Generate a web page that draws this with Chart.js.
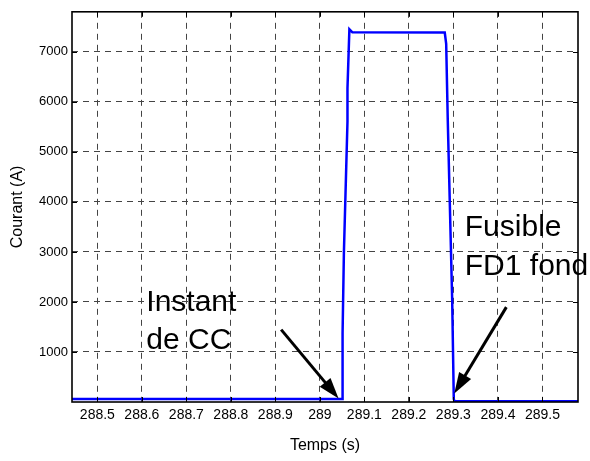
<!DOCTYPE html>
<html><head><meta charset="utf-8">
<script src="https://cdn.jsdelivr.net/npm/chart.js@4.4.0/dist/chart.umd.min.js"></script>
<style>html,body{margin:0;padding:0;background:#fff;}canvas{display:block;}</style>
</head><body>
<canvas id="c" width="590" height="461"></canvas>
<script>
// ---- data ----
const timeS    = [288.443, 289.051, 289.051, 289.054, 289.062, 289.062, 289.0663, 289.073, 289.2806, 289.2838, 289.2874, 289.2973, 289.3009, 289.3024, 289.58];
const currentA = [60,      60,      1370,    3000,    5600,    6270,    7450,     7390,    7385,     7160,     5620,     2030,     60,       15,       15];
const xTickValues = [288.5, 288.6, 288.7, 288.8, 288.9, 289.0, 289.1, 289.2, 289.3, 289.4, 289.5];
const xTickLabels = ['288.5','288.6','288.7','288.8','288.9','289','289.1','289.2','289.3','289.4','289.5'];
const yTickValues = [1000, 2000, 3000, 4000, 5000, 6000, 7000];
const yTickLabels = ['1000','2000','3000','4000','5000','6000','7000'];
const xRange = [288.443, 289.58];
const yRange = [0, 7800];
const noteTexts = ['Instant', 'de CC', 'Fusible', 'FD1 fond'];
const noteX = [288.610, 288.610, 289.3256, 289.3256];
const noteY = [1818, 1067, 3314, 2530];
const arrowFromX = [288.913, 289.419];
const arrowFromY = [1447, 1897];
const arrowToX = [289.042, 289.302];
const arrowToY = [70, 170];

const FAMILY = '"Liberation Sans", Arial, Helvetica, sans-serif';

const framePlugin = {
  id: 'frame',
  beforeDraw(chart) {
    const ctx = chart.ctx;
    ctx.save(); ctx.fillStyle = '#fff'; ctx.fillRect(0, 0, chart.width, chart.height); ctx.restore();
  },
  afterDraw(chart) {
    const {ctx, chartArea: a, scales: {x, y}} = chart;
    ctx.save();
    ctx.strokeStyle = '#000';
    ctx.lineWidth = 1;
    ctx.beginPath();
    xTickValues.forEach(v => {
      const px = Math.round(x.getPixelForValue(v)) + 0.5;
      ctx.moveTo(px, a.bottom); ctx.lineTo(px, a.bottom - 5);
      ctx.moveTo(px, a.top); ctx.lineTo(px, a.top + 5);
    });
    yTickValues.forEach(v => {
      const py = Math.round(y.getPixelForValue(v)) + 0.5;
      ctx.moveTo(a.left, py); ctx.lineTo(a.left + 5, py);
      ctx.moveTo(a.right, py); ctx.lineTo(a.right - 5, py);
    });
    ctx.stroke();
    ctx.lineWidth = 1.6;
    ctx.strokeRect(a.left, a.top, a.right - a.left, a.bottom - a.top);

    // annotation text
    ctx.fillStyle = '#000';
    ctx.font = '30px ' + FAMILY;
    ctx.textAlign = 'left';
    ctx.textBaseline = 'alphabetic';
    noteTexts.forEach((t, i) => ctx.fillText(t, x.getPixelForValue(noteX[i]), y.getPixelForValue(noteY[i])));

    // arrows
    arrowFromX.forEach((_, i) => {
      const x0 = x.getPixelForValue(arrowFromX[i]), y0 = y.getPixelForValue(arrowFromY[i]);
      const x1 = x.getPixelForValue(arrowToX[i]), y1 = y.getPixelForValue(arrowToY[i]);
      const ang = Math.atan2(y1 - y0, x1 - x0);
      const L = 21, W = 7;
      const c = Math.cos(ang), s = Math.sin(ang);
      const bx = x1 - L * c, by = y1 - L * s;
      ctx.lineWidth = 3;
      ctx.beginPath(); ctx.moveTo(x0, y0); ctx.lineTo(bx + 2 * c, by + 2 * s); ctx.stroke();
      ctx.beginPath();
      ctx.moveTo(x1, y1);
      ctx.lineTo(bx + W * s, by - W * c);
      ctx.lineTo(bx - W * s, by + W * c);
      ctx.closePath(); ctx.fill();
    });
    ctx.restore();
  }
};

new Chart(document.getElementById('c').getContext('2d'), {
  type: 'line',
  data: {
    datasets: [{
      data: timeS.map((t, i) => ({x: t, y: currentA[i]})),
      borderColor: '#0000ff',
      borderWidth: 2.5,
      pointRadius: 0,
      tension: 0,
      fill: false
    }]
  },
  options: {
    responsive: false,
    animation: false,
    devicePixelRatio: 1,
    layout: {padding: {left: 0, top: 11, right: 12, bottom: 0}},
    plugins: {legend: {display: false}, tooltip: {enabled: false}},
    scales: {
      x: {
        type: 'linear', min: xRange[0], max: xRange[1],
        afterBuildTicks: s => { s.ticks = xTickValues.map(v => ({value: v})); },
        afterFit: s => { s.height = 59; },
        ticks: {callback: (v, i) => xTickLabels[i], font: {family: FAMILY, size: 14}, color: '#000', padding: 5, maxRotation: 0, autoSkip: false},
        grid: {drawTicks: false, color: '#444', lineWidth: 1},
        border: {display: false, dash: [6, 5]},
        title: {display: true, text: 'Temps (s)', font: {family: FAMILY, size: 16}, color: '#000', padding: {top: 0, bottom: 6}}
      },
      y: {
        type: 'linear', min: yRange[0], max: yRange[1],
        afterBuildTicks: s => { s.ticks = yTickValues.map(v => ({value: v})); },
        afterFit: s => { s.width = 72; },
        ticks: {callback: (v, i) => yTickLabels[i], font: {family: FAMILY, size: 13}, color: '#000', padding: 4, autoSkip: false},
        grid: {drawTicks: false, color: '#444', lineWidth: 1},
        border: {display: false, dash: [6, 5]},
        title: {display: true, text: 'Courant (A)', font: {family: FAMILY, size: 16}, color: '#000', padding: {top: 8, bottom: 0}}
      }
    }
  },
  plugins: [framePlugin]
});
</script>
</body></html>
